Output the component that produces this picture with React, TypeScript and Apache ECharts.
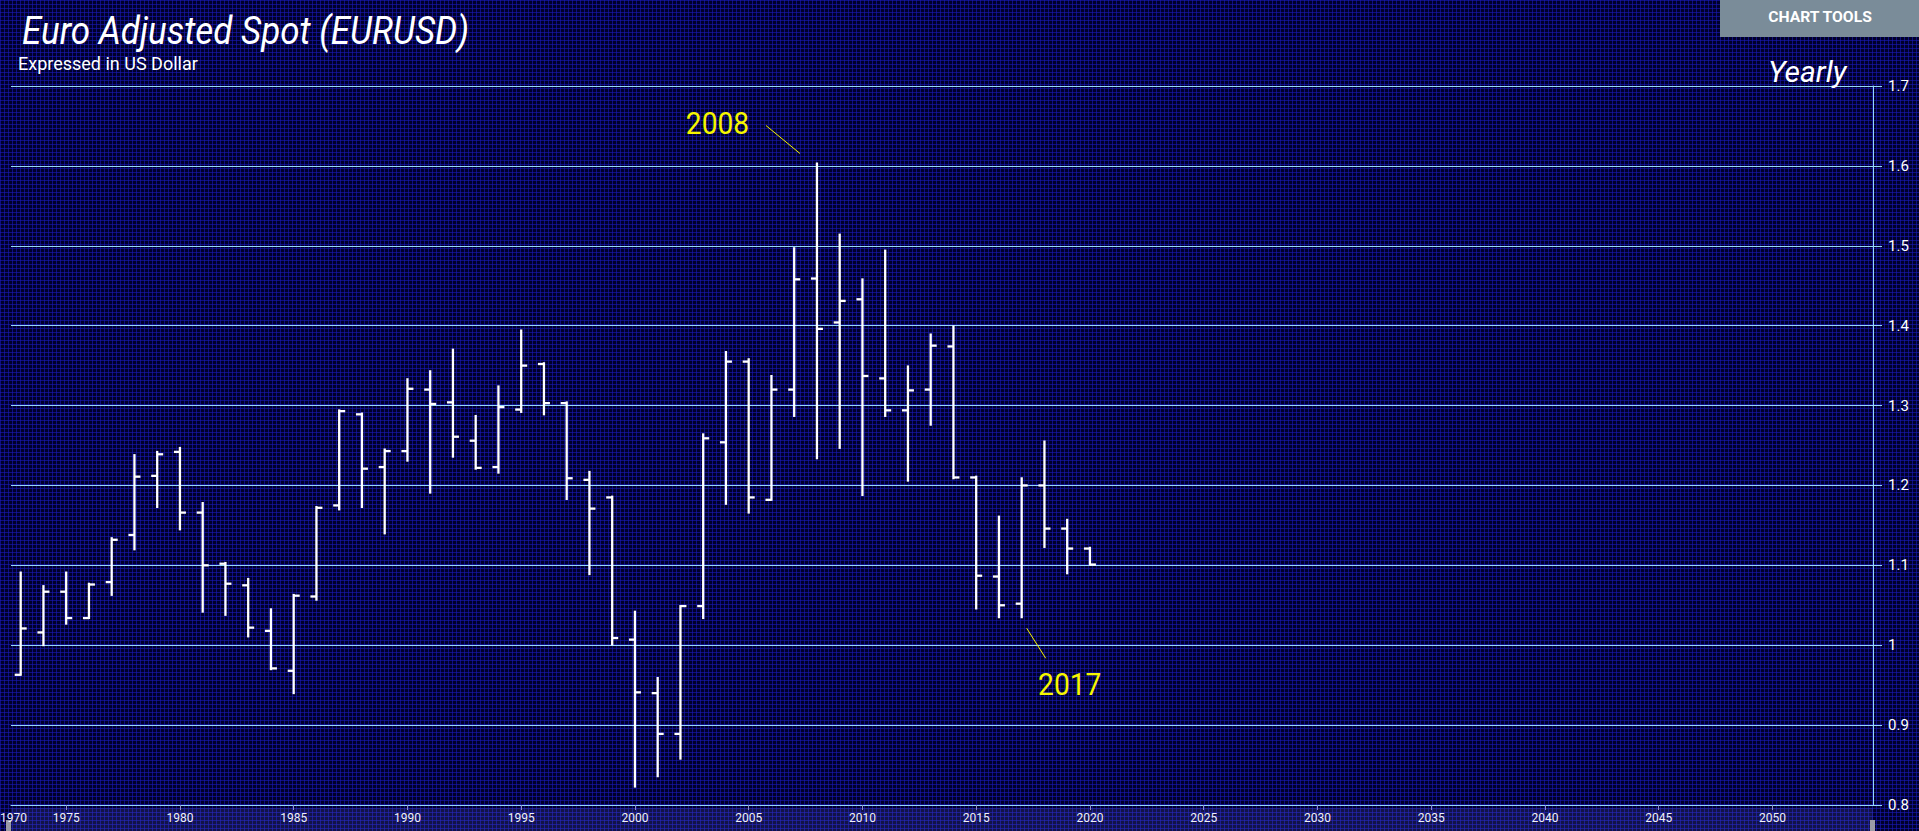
import React, { useEffect, useRef } from "react";
import * as echarts from "echarts";

const years = [
  1973, 1974, 1975, 1976, 1977, 1978, 1979, 1980, 1981, 1982, 1983, 1984,
  1985, 1986, 1987, 1988, 1989, 1990, 1991, 1992, 1993, 1994, 1995, 1996,
  1997, 1998, 1999, 2000, 2001, 2002, 2003, 2004, 2005, 2006, 2007, 2008,
  2009, 2010, 2011, 2012, 2013, 2014, 2015, 2016, 2017, 2018, 2019, 2020,
];
const opens = [
  0.963, 1.016, 1.067, 1.034, 1.079, 1.138, 1.212, 1.242, 1.166, 1.102, 1.075, 1.018,
  0.968, 1.061, 1.175, 1.289, 1.223, 1.243, 1.32, 1.304, 1.256, 1.223, 1.295, 1.352,
  1.303, 1.207, 1.185, 1.007, 0.94, 0.889, 1.049, 1.254, 1.355, 1.182, 1.32, 1.459,
  1.404, 1.433, 1.334, 1.294, 1.32, 1.374, 1.21, 1.086, 1.052, 1.2, 1.146, 1.121,
];
const highs = [
  1.091, 1.074, 1.091, 1.077, 1.134, 1.238, 1.242, 1.247, 1.178, 1.103, 1.083, 1.045,
  1.063, 1.173, 1.294, 1.29, 1.245, 1.333, 1.343, 1.37, 1.287, 1.324, 1.394, 1.353,
  1.304, 1.217, 1.186, 1.042, 0.959, 1.049, 1.264, 1.367, 1.358, 1.337, 1.497, 1.603,
  1.514, 1.458, 1.494, 1.349, 1.389, 1.399, 1.211, 1.161, 1.209, 1.255, 1.157, 1.122,
];
const lows = [
  0.963, 1.0, 1.027, 1.034, 1.063, 1.12, 1.173, 1.145, 1.042, 1.038, 1.011, 0.97,
  0.94, 1.057, 1.17, 1.173, 1.14, 1.231, 1.191, 1.236, 1.221, 1.216, 1.292, 1.289,
  1.183, 1.089, 1.001, 0.823, 0.836, 0.858, 1.034, 1.177, 1.166, 1.182, 1.287, 1.234,
  1.247, 1.188, 1.287, 1.206, 1.276, 1.209, 1.046, 1.035, 1.035, 1.123, 1.09, 1.101,
];
const closes = [
  1.021, 1.067, 1.034, 1.076, 1.132, 1.211, 1.239, 1.166, 1.1, 1.077, 1.022, 0.971,
  1.062, 1.172, 1.293, 1.221, 1.243, 1.321, 1.302, 1.261, 1.222, 1.298, 1.35, 1.303,
  1.209, 1.171, 1.009, 0.941, 0.889, 1.049, 1.259, 1.355, 1.185, 1.32, 1.458, 1.396,
  1.431, 1.337, 1.294, 1.319, 1.375, 1.21, 1.087, 1.05, 1.2, 1.146, 1.121, 1.101,
];
const xLabelYears = [
  1975, 1980, 1985, 1990, 1995, 2000, 2005, 2010, 2015, 2020, 2025, 2030,
  2035, 2040, 2045, 2050,
];
const yMin = 0.8;
const yMax = 1.7;
const yStep = 0.1;
const annotations = [
  { label: "2008", year: 2008, at: "high" },
  { label: "2017", year: 2017, at: "low" },
];

const GRID_COLOR = "#95d8f8";

export default function App() {
  const ref = useRef<HTMLDivElement>(null);

  useEffect(() => {
    if (!ref.current) return;
    const chart = echarts.init(ref.current, undefined, { renderer: "svg" });
    const data = years.map((y, i) => [y, opens[i], highs[i], lows[i], closes[i]]);

    chart.setOption({
      animation: false,
      backgroundColor: "transparent",
      grid: { left: 11, right: 46, top: 86, bottom: 26, containLabel: false },
      xAxis: {
        type: "value",
        min: 1972.574,
        max: 2054.42,
        axisLine: { show: true, lineStyle: { color: GRID_COLOR, width: 1 } },
        axisTick: {
          show: true,
          customValues: xLabelYears,
          length: 5,
          lineStyle: { color: "#8c8cc8" },
        },
        axisLabel: {
          customValues: xLabelYears,
          color: "#f0f0f8",
          fontSize: 12,
          fontFamily: "Liberation Sans Narrow, Roboto, sans-serif",
          margin: 7,
          formatter: (v: number) => String(v),
        },
        splitLine: { show: false },
      },
      yAxis: {
        type: "value",
        position: "right",
        min: yMin,
        max: yMax,
        interval: yStep,
        axisLine: { show: true, lineStyle: { color: GRID_COLOR, width: 1 } },
        axisTick: { show: true, length: 9, lineStyle: { color: GRID_COLOR } },
        axisLabel: {
          color: "#ffffff",
          fontSize: 15,
          fontFamily: "Roboto, sans-serif",
          margin: 15,
        },
        splitLine: { show: true, lineStyle: { color: GRID_COLOR, width: 1 } },
      },
      series: [
        {
          type: "custom",
          data,
          encode: { x: 0, y: [1, 2, 3, 4] },
          clip: false,
          renderItem: (params: any, api: any) => {
            const x = api.value(0);
            const o = api.coord([x, api.value(1)]);
            const h = api.coord([x, api.value(2)]);
            const l = api.coord([x, api.value(3)]);
            const c = api.coord([x, api.value(4)]);
            const st = { stroke: "#ffffff", lineWidth: 2.3 };
            return {
              type: "group",
              children: [
                { type: "line", shape: { x1: h[0], y1: h[1] - 1, x2: l[0], y2: l[1] + 1 }, style: st },
                { type: "line", shape: { x1: o[0] - 6, y1: o[1], x2: o[0], y2: o[1] }, style: st },
                { type: "line", shape: { x1: c[0], y1: c[1], x2: c[0] + 6, y2: c[1] }, style: st },
              ],
            };
          },
        },
      ],
    });

    const annoGraphics: any[] = [];
    annotations.forEach((a) => {
      const i = years.indexOf(a.year);
      const textStyle = {
        text: a.label,
        fill: "#f6f600",
        fontSize: 32,
        fontFamily: "Roboto, sans-serif",
        align: "center",
        verticalAlign: "middle",
      };
      if (a.at === "high") {
        const p = chart.convertToPixel({ gridIndex: 0 }, [a.year, highs[i]]) as number[];
        annoGraphics.push({
          type: "line",
          shape: { x1: p[0] - 51, y1: p[1] - 38, x2: p[0] - 17, y2: p[1] - 10 },
          style: { stroke: "#f6f600", lineWidth: 1 },
        });
        annoGraphics.push({ type: "text", x: p[0] - 99.5, y: p[1] - 40.5, scaleX: 0.88, style: textStyle });
      } else {
        const p = chart.convertToPixel({ gridIndex: 0 }, [a.year, lows[i]]) as number[];
        annoGraphics.push({
          type: "line",
          shape: { x1: p[0] + 5, y1: p[1] + 11, x2: p[0] + 24, y2: p[1] + 41 },
          style: { stroke: "#f6f600", lineWidth: 1 },
        });
        annoGraphics.push({ type: "text", x: p[0] + 48, y: p[1] + 67, scaleX: 0.88, style: textStyle });
      }
    });

    chart.setOption({
      graphic: [
        {
          type: "rect",
          silent: true,
          z: -1,
          shape: { x: 11, y: 808, width: 1862, height: 23 },
          style: { fill: "rgba(110,120,230,0.16)" },
        },
        {
          type: "rect",
          shape: { x: 6, y: 820, width: 5, height: 11 },
          style: { fill: "#9a9aa6" },
        },
        {
          type: "rect",
          shape: { x: 1870, y: 820, width: 5, height: 11 },
          style: { fill: "#9a9aa6" },
        },
        {
          type: "text",
          x: 0,
          y: 818,
          style: {
            text: "1970",
            fill: "#f0f0f8",
            fontSize: 12,
            fontFamily: "Liberation Sans Narrow, Roboto, sans-serif",
            align: "left",
            verticalAlign: "middle",
          },
        },
        {
          type: "text",
          x: 22,
          y: 31,
          scaleX: 0.92,
          style: {
            text: "Euro Adjusted Spot (EURUSD)",
            fill: "#ffffff",
            fontSize: 38,
            fontStyle: "italic",
            fontWeight: "normal",
            fontFamily: "Roboto, sans-serif",
            align: "left",
            verticalAlign: "middle",
          },
        },
        {
          type: "text",
          x: 18,
          y: 63,
          style: {
            text: "Expressed in US Dollar",
            fill: "#ffffff",
            fontSize: 18,
            fontFamily: "Roboto, sans-serif",
            align: "left",
            verticalAlign: "middle",
          },
        },
        {
          type: "text",
          x: 1768,
          y: 71,
          style: {
            text: "Yearly",
            fill: "#ffffff",
            fontSize: 30,
            fontStyle: "italic",
            fontFamily: "Roboto, sans-serif",
            align: "left",
            verticalAlign: "middle",
          },
        },
        {
          type: "rect",
          shape: { x: 1720, y: 0, width: 199, height: 37 },
          style: { fill: "#7a8c99" },
        },
        {
          type: "text",
          x: 1820,
          y: 17,
          scaleX: 1.12,
          style: {
            text: "CHART TOOLS",
            fill: "#ffffff",
            fontSize: 14,
            fontWeight: "bold",
            fontFamily: "Roboto, sans-serif",
            align: "center",
            verticalAlign: "middle",
          },
        },
        ...annoGraphics,
      ],
    });

    return () => chart.dispose();
  }, []);

  return (
    <div
      ref={ref}
      style={{
        position: "fixed",
        left: 0,
        top: 0,
        width: 1919,
        height: 831,
        backgroundColor: "#00002a",
        backgroundImage:
          "linear-gradient(90deg, rgba(25,25,185,0.6) 1px, transparent 1px), linear-gradient(rgba(25,25,185,0.6) 1px, transparent 1px)",
        backgroundSize: "4px 4px",
      }}
    />
  );
}
